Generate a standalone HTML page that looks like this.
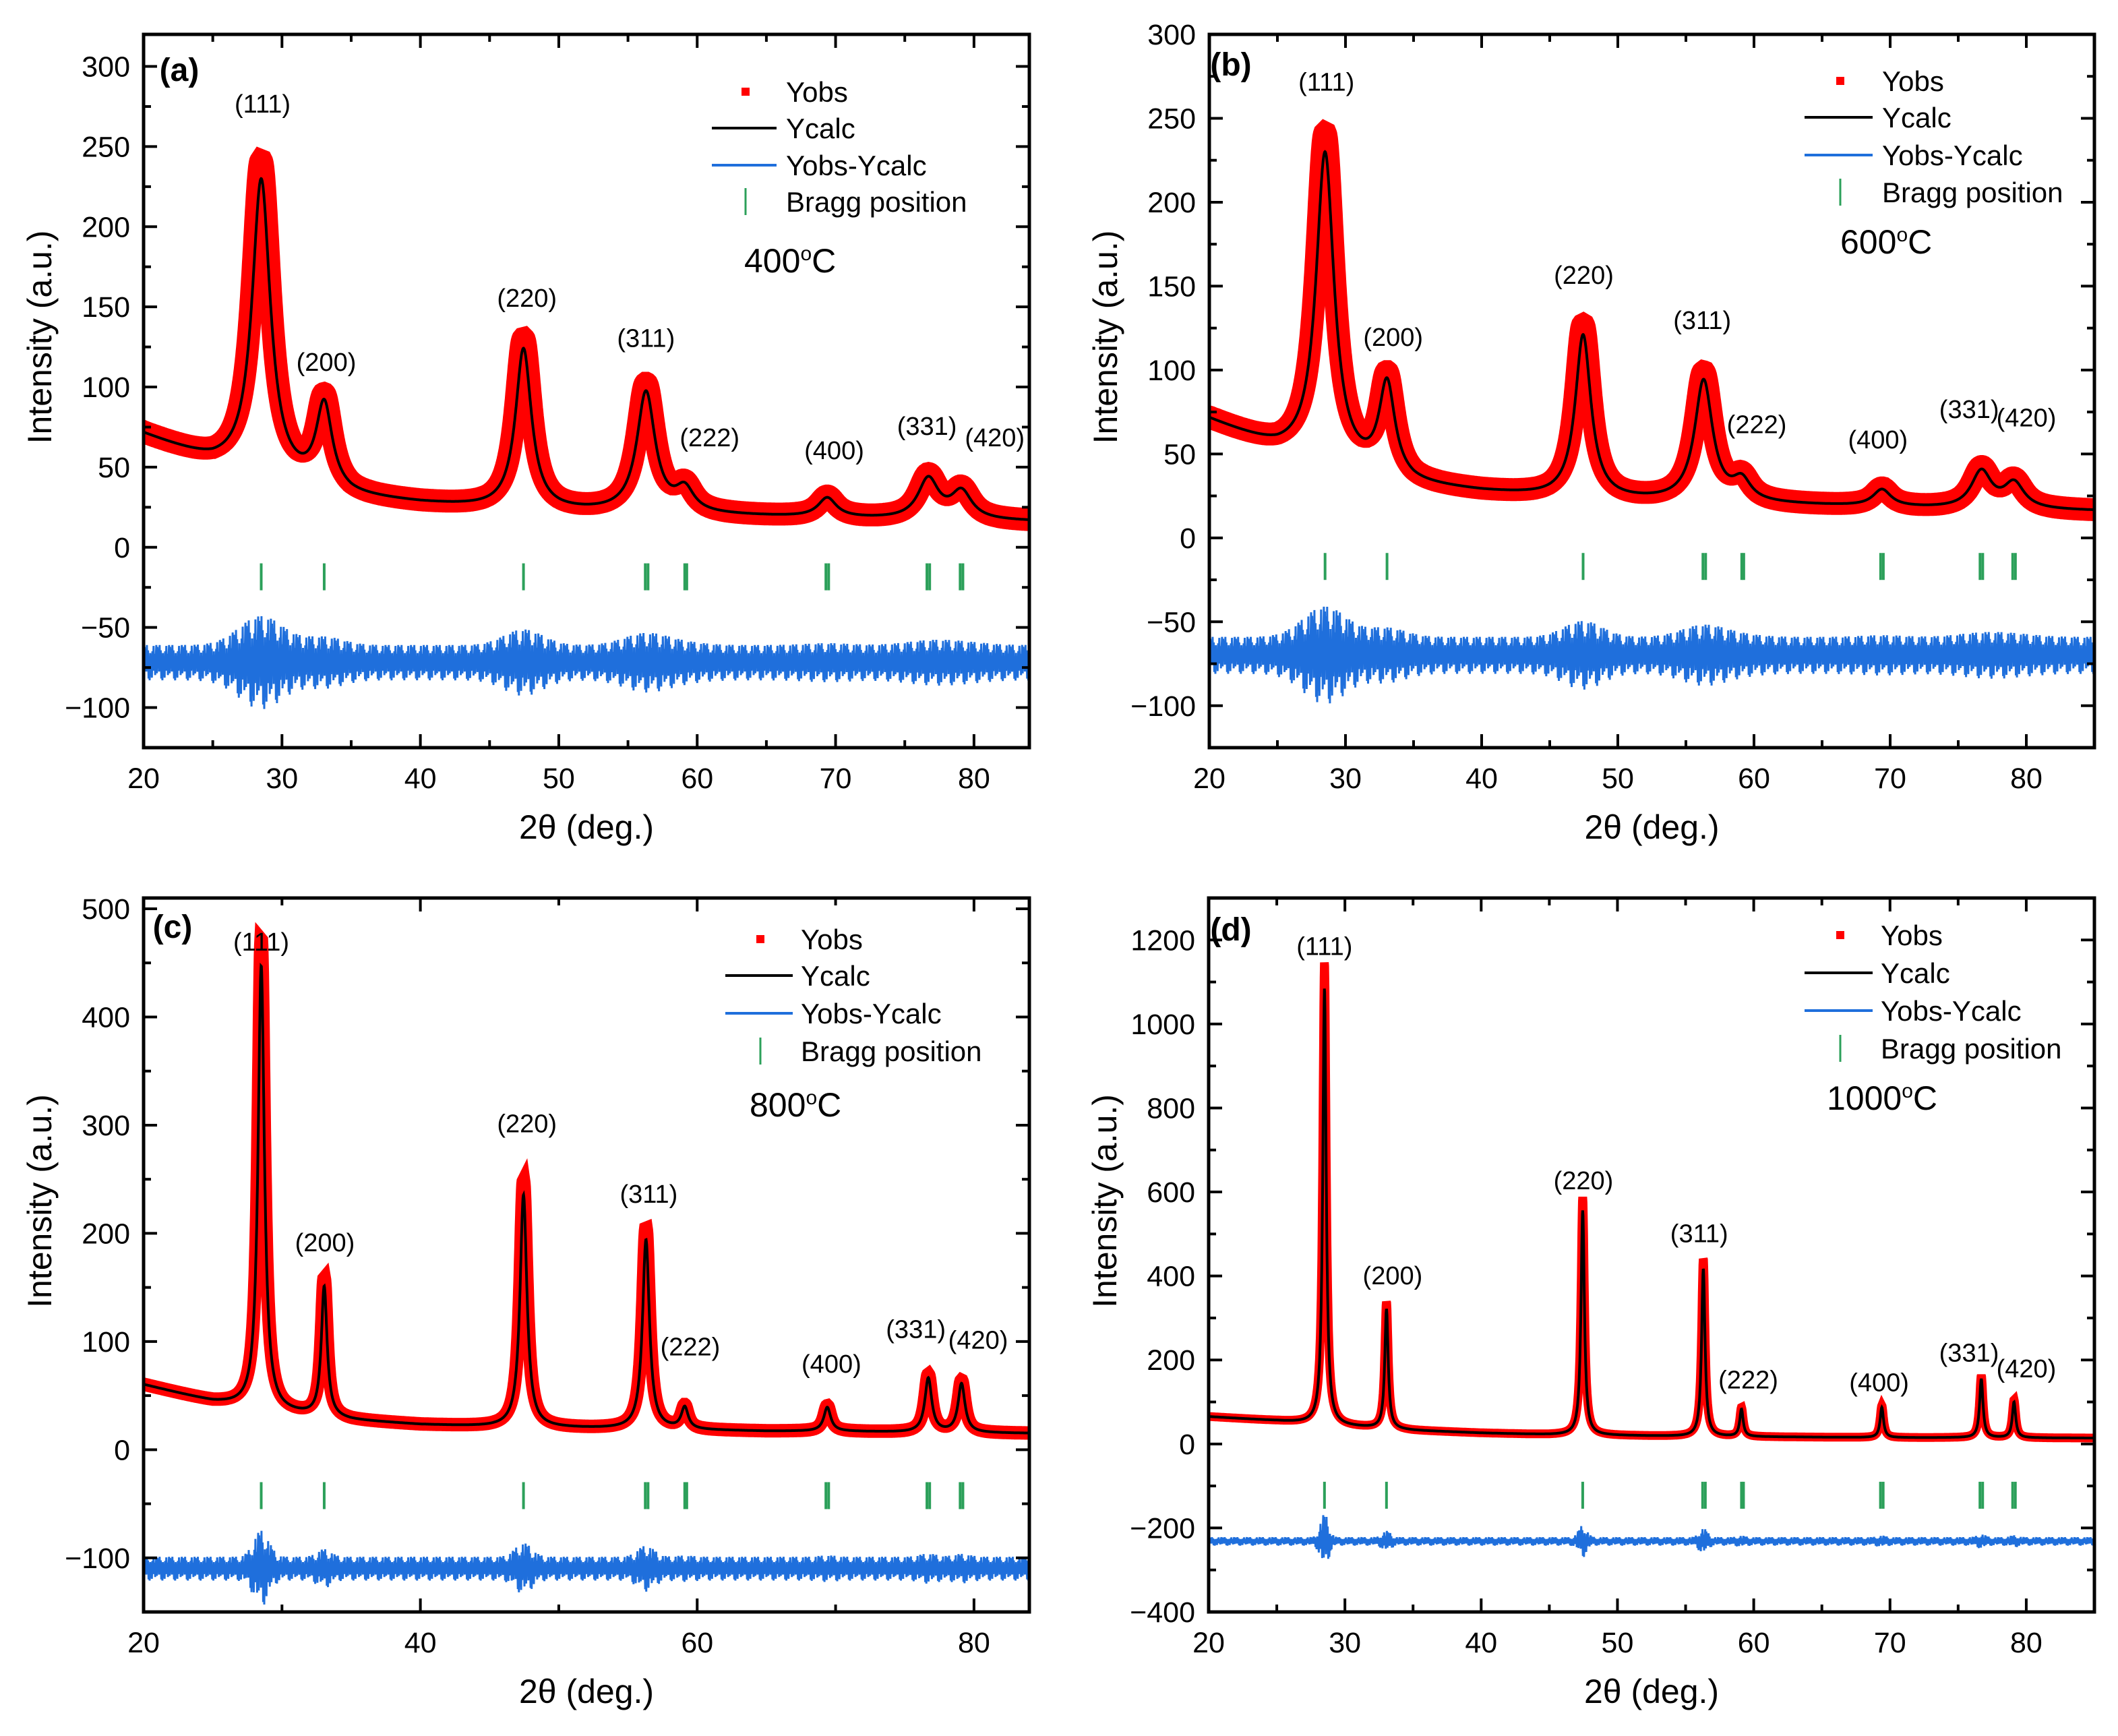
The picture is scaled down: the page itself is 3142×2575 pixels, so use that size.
<!DOCTYPE html>
<html><head><meta charset="utf-8"><style>
html,body{margin:0;padding:0;background:#fff}
svg{display:block;font-family:"Liberation Sans",Arial,sans-serif}
</style></head><body>
<svg id="fig" width="3142" height="2575" viewBox="0 0 3142 2575" xmlns="http://www.w3.org/2000/svg"></svg>
<script>
// ---- shared data ----
const peakPos = [28.5, 33.05, 47.45, 56.3, 59.1, 69.4, 76.7, 79.1];
const peakNames = ["(111)","(200)","(220)","(311)","(222)","(400)","(331)","(420)"];
const braggPos = [28.5, 33.05, 47.45, 56.25, 56.45, 59.1, 59.25, 69.3, 69.5, 76.6, 76.8, 79.0, 79.2];
const bgX = [20,25,30,35,40,45,50,55,60,65,70,75,85];

// panel a
const aHeights = [185, 52, 100, 75, 14, 12, 25, 17];
const aWidths  = [1.6, 1.4, 1.4, 1.6, 1.6, 1.6, 1.8, 1.8];
const aBg = [70,52,40,31,27,24,22,21,20,19,18,17,16];
const aLabelX = [28.6,33.2,47.7,56.3,60.9,69.9,76.6,81.5];
const aLabelY = [277,116,156,131,69,61,76,69];
// panel b
const bHeights = [185, 55, 97, 72, 12, 10, 22, 15];
const bWidths  = [1.6, 1.4, 1.4, 1.6, 1.6, 1.6, 1.8, 1.8];
const bBg = [70,52,40,31,27,24,22,21,20,19,18,17,16];
const bLabelX = [28.6,33.5,47.5,56.2,60.2,69.1,75.8,80.0];
const bLabelY = [272,120,157,130,68,59,77,72];
// panel c
const cHeights = [410, 120, 215, 175, 20, 22, 50, 45];
const cWidths  = [0.55, 0.5, 0.6, 0.6, 0.6, 0.6, 0.6, 0.6];
const cBg = [60,44,34,27,23,21,20,19,18,17,17,16,15];
const cLabelX = [28.5,33.1,47.7,56.5,59.5,69.7,75.8,80.3];
const cLabelY = [470,192,302,237,96,80,112,102];
// panel d
const dHeights = [1040, 285, 535, 400, 65, 72, 140, 85];
const dWidths  = [0.3, 0.3, 0.3, 0.3, 0.3, 0.3, 0.3, 0.3];
const dBg = [65,55,42,32,26,22,20,18,17,16,15,15,14];
const dLabelX = [28.5,33.5,47.5,56.0,59.6,69.2,75.8,80.0];
const dLabelY = [1187,403,629,503,155,148,219,181];

const NS = "http://www.w3.org/2000/svg";
const svg = document.getElementById("fig");
function mk(tag, attrs, parent){
  const e = document.createElementNS(NS, tag);
  for (const k in attrs) e.setAttribute(k, attrs[k]);
  (parent||svg).appendChild(e); return e;
}
function interp(xs, ys, x){
  if (x<=xs[0]) return ys[0];
  for (let i=1;i<xs.length;i++) if (x<=xs[i]) { const t=(x-xs[i-1])/(xs[i]-xs[i-1]); return ys[i-1]+t*(ys[i]-ys[i-1]); }
  return ys[ys.length-1];
}
const jitter = [1,-0.6,0.9,-0.3,0.8,-0.5,1,-0.4,0.7,-0.9,0.35,-1,0.55,-0.75,0.2,-0.85,0.65,-0.45,0.95,-0.25,0.5,-0.7,0.3];

function panel(cfg){
  const g = mk("g", {});
  
  
  const {L,R,T,B,xmin,xmax,ymin,ymax} = cfg;
  const X = v => L + (v-xmin)/(xmax-xmin)*(R-L);
  const Y = v => B - (v-ymin)/(ymax-ymin)*(B-T);
  const calc = x => { let s = interp(bgX, cfg.bg, x); for (let i=0;i<peakPos.length;i++){ const w=cfg.widths[i]/2; const d=x-peakPos[i]; s += cfg.heights[i]*w*w/(w*w+d*d);} return s; };
  const clipId = "clip"+cfg.name;
  const cp = mk("clipPath",{id:clipId}, g); mk("rect",{x:L,y:T,width:R-L,height:B-T},cp);
  const pg = mk("g",{"clip-path":"url(#"+clipId+")"}, g);
  let d=""; const step = (xmax-xmin)/3000;
  for (let i=0;i<=3000;i++){ const x=xmin+i*step; const y=calc(x)*(1+0.06*Math.max(0,(calc(x)-interp(bgX,cfg.bg,x))/calc(x))); d += (i?"L":"M")+X(x).toFixed(1)+","+Y(y).toFixed(1); }
  const obs = mk("path",{d, fill:"none", stroke:"#ff0000", "stroke-width":cfg.obsW, "stroke-linejoin":"miter","stroke-linecap":"square"}, pg);
   
  d=""; for (let i=0;i<=3000;i++){ const x=xmin+i*step; d += (i?"L":"M")+X(x).toFixed(1)+","+Y(calc(x)).toFixed(1); }
  const cl = mk("path",{d, fill:"none", stroke:"#000", "stroke-width":4}, pg);
   
  d=""; const n=1600;
  for (let i=0;i<=n;i++){ const x=xmin+i*(xmax-xmin)/n; let a=cfg.diffAmp; for (let k=0;k<peakPos.length;k++){ const w=cfg.widths[k]; const dd=x-peakPos[k]; a += cfg.diffPeak*cfg.heights[k]/cfg.heights[0]*Math.exp(-dd*dd/(2*w*w)); }
    const y=cfg.diffC + a*jitter[i%jitter.length]; d += (i?"L":"M")+X(x).toFixed(1)+","+Y(y).toFixed(1); }
  const df = mk("path",{d, fill:"none", stroke:"#1f6fdc", "stroke-width":3}, pg);
   
  braggPos.forEach(p=>{ const t=mk("line",{x1:X(p),x2:X(p),y1:Y(cfg.braggTop),y2:Y(cfg.braggTop)+40,stroke:"#2ca05a","stroke-width":4},g);
      });
  const fr = mk("rect",{x:L,y:T,width:R-L,height:B-T,fill:"none",stroke:"#000","stroke-width":5},g);
   
  for (let v=xmin; v<=xmax+1e-6; v+=cfg.xMinor){
    const major = Math.abs((v-20)%cfg.xMajor)<1e-6; const len = major?20:11;
    mk("line",{x1:X(v),x2:X(v),y1:B,y2:B-len,stroke:"#000","stroke-width":4},g);
    mk("line",{x1:X(v),x2:X(v),y1:T,y2:T+len,stroke:"#000","stroke-width":4},g);
    if (major){ const t=mk("text",{x:X(v),y:B+60,"font-size":43,"text-anchor":"middle"},g); t.textContent=v;
        }
  }
  const y0 = Math.ceil(ymin/cfg.yMinor)*cfg.yMinor;
  for (let v=y0; v<=ymax+1e-6; v+=cfg.yMinor){
    const major = Math.abs(v%cfg.yMajor)<1e-6; const len = major?20:11;
    mk("line",{x1:L,x2:L+len,y1:Y(v),y2:Y(v),stroke:"#000","stroke-width":4},g);
    mk("line",{x1:R,x2:R-len,y1:Y(v),y2:Y(v),stroke:"#000","stroke-width":4},g);
    if (major){ const t=mk("text",{x:L-20,y:Y(v)+15,"font-size":43,"text-anchor":"end"},g); t.textContent=(v<0?"\u2212"+(-v):v);
        }
  }
  const xt = mk("text",{x:(L+R)/2,y:B+135,"font-size":50,"text-anchor":"middle"},g); xt.textContent="2\u03b8 (deg.)";
   
  const yt = mk("text",{x:0,y:0,"font-size":50,"text-anchor":"middle",transform:`translate(${L-137},${(T+B)/2-80}) rotate(-90)`},g); yt.textContent="Intensity (a.u.)";
   
  const pl = mk("text",{x:cfg.plx,y:cfg.ply,"font-size":48,"font-weight":"bold","text-anchor":"middle"},g); pl.textContent=cfg.letter;
   
  for (let i=0;i<peakNames.length;i++){
    const t=mk("text",{x:X(cfg.labX[i]),y:Y(cfg.labY[i])+14,"font-size":38,"text-anchor":"middle"},g); t.textContent=peakNames[i];
     
  }
  const lg = cfg.leg; const lgG = mk("g",{},g);
   
  const names=["Yobs","Ycalc","Yobs-Ycalc","Bragg position"];
  names.forEach((nm,i)=>{ const yy=lg.rows[i];
    const t=mk("text",{x:lg.tx,y:yy+15,"font-size":42},lgG); t.textContent=nm;
      });
  mk("rect",{x:lg.mx-6,y:lg.rows[0]-6,width:12,height:12,fill:"#ff0000"},lgG);
  mk("line",{x1:lg.l1,x2:lg.l2,y1:lg.rows[1],y2:lg.rows[1],stroke:"#000","stroke-width":4},lgG);
  mk("line",{x1:lg.l1,x2:lg.l2,y1:lg.rows[2],y2:lg.rows[2],stroke:"#1f6fdc","stroke-width":4},lgG);
  mk("line",{x1:lg.mx,x2:lg.mx,y1:lg.rows[3]-20,y2:lg.rows[3]+20,stroke:"#2ca05a","stroke-width":3},lgG);
  const tp = mk("text",{x:cfg.tx,y:cfg.ty+17,"font-size":50},g);
  tp.innerHTML = cfg.temp+'<tspan dy="-18" font-size="30">o</tspan><tspan dy="18">C</tspan>';
   
}

panel({name:"panel-a",letter:"(a)",L:213,R:1527,T:51,B:1109,xmin:20,xmax:84,ymin:-125,ymax:320,
  heights:aHeights,widths:aWidths,bg:aBg,labX:aLabelX,labY:aLabelY,obsW:34,diffC:-72,diffAmp:11,diffPeak:18,braggTop:-10,
  xMajor:10,xMinor:5,yMajor:50,yMinor:25,plx:266,ply:120,temp:"400",tx:1104,ty:387,
  leg:{rows:[136,190,245,299],tx:1166,mx:1106,l1:1056,l2:1152}});
panel({name:"panel-b",letter:"(b)",L:1794,R:3107,T:51,B:1109,xmin:20,xmax:85,ymin:-125,ymax:300,
  heights:bHeights,widths:bWidths,bg:bBg,labX:bLabelX,labY:bLabelY,obsW:34,diffC:-70,diffAmp:11,diffPeak:18,braggTop:-9,
  xMajor:10,xMinor:5,yMajor:50,yMinor:25,plx:1826,ply:112,temp:"600",tx:2730,ty:359,
  leg:{rows:[120,174,230,285],tx:2792,mx:2730,l1:2677,l2:2778}});
panel({name:"panel-c",letter:"(c)",L:213,R:1527,T:1332,B:2391,xmin:20,xmax:84,ymin:-150,ymax:510,
  heights:cHeights,widths:cWidths,bg:cBg,labX:cLabelX,labY:cLabelY,obsW:20,diffC:-110,diffAmp:11,diffPeak:24,braggTop:-30,
  xMajor:20,xMinor:10,yMajor:100,yMinor:50,plx:256,ply:1391,temp:"800",tx:1112,ty:1639,
  leg:{rows:[1393,1447,1503,1559],tx:1188,mx:1128,l1:1076,l2:1176}});
panel({name:"panel-d",letter:"(d)",L:1793,R:3107,T:1332,B:2391,xmin:20,xmax:85,ymin:-400,ymax:1300,
  heights:dHeights,widths:dWidths,bg:dBg,labX:dLabelX,labY:dLabelY,obsW:13,diffC:-232,diffAmp:10,diffPeak:55,braggTop:-90,
  xMajor:10,xMinor:5,yMajor:200,yMinor:100,plx:1826,ply:1395,temp:"1000",tx:2710,ty:1629,
  leg:{rows:[1387,1443,1499,1555],tx:2790,mx:2730,l1:2677,l2:2778}});
</script>
</body></html>
